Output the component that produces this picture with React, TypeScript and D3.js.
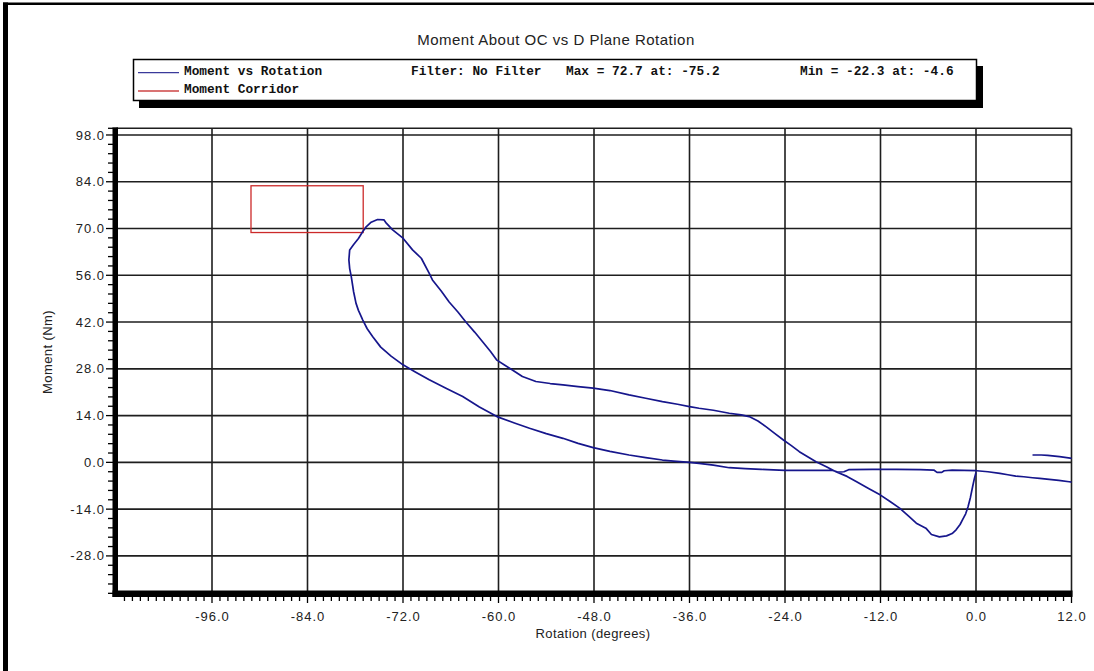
import React from "react";
import * as d3 from "d3";

const W = 1094;
const H = 671;

const chartTitle = "Moment About OC vs D Plane Rotation";
const xAxisTitle = "Rotation (degrees)";
const yAxisTitle = "Moment (Nm)";

const xTickValues = [-96, -84, -72, -60, -48, -36, -24, -12, 0, 12];
const yTickValues = [98, 84, 70, 56, 42, 28, 14, 0, -14, -28];

const legendSeries = ["Moment vs Rotation", "Moment Corridor"];
const legendFilter = "Filter: No Filter";
const legendMax = "Max = 72.7 at: -75.2";
const legendMin = "Min = -22.3 at: -4.6";

// Main trace (rotation deg, moment Nm), in drawing order
const loopRotation = [
  12.3, 11.7, 10.4, 9.2, 8.0, 7.1, 6.0, 5.0, 4.0, 3.0, 1.5, 0.1, -1.5, -3.0, -4.0, -4.3, -4.9, -5.3,
  -7, -10, -13, -16, -16.6, -17.4, -18.0, -20, -24, -27, -29, -31, -33, -34.8, -36, -38, -39.4,
  -41.5, -43.6, -46, -48.1, -50, -51.9, -54, -56.1, -58, -60.2, -62.4, -64.5, -66.6, -68.7, -70.4,
  -72, -73.5, -74.8, -75.8, -76.5, -77.05, -77.6, -77.9, -78.2, -78.5, -78.7, -78.8, -78.7, -78.2,
  -77.6, -77.05, -76.6, -76.0, -75.2, -74.4, -74.1, -73.3, -72.0, -70.8, -69.7, -68.7, -68.3, -67.2,
  -66.2, -65.1, -64.1, -63, -62, -61, -60.2, -59.2, -58.4, -57, -55.3, -53.5, -51.9, -50, -48.1,
  -46, -43.6, -41.5, -39.4, -37.5, -36, -34.8, -33, -31, -29.5, -28.5, -27.4, -26.4, -25.3, -24.2,
  -23.2, -22.2, -21.1, -20.1, -18.8, -17.6, -16.2, -15, -13.5, -12, -10.8, -9.6, -8.5, -7.5, -6.3,
  -5.6, -4.6, -3.7, -3.0, -2.5, -2.0, -1.7, -1.3, -1.0, -0.7, -0.4, -0.2, 0,
];
const loopMoment = [
  -6.0, -5.8, -5.4, -5.1, -4.8, -4.6, -4.3, -4.1, -3.7, -3.3, -2.8, -2.5, -2.4, -2.3, -2.5, -3.0, -3.0, -2.3,
  -2.2, -2.1, -2.1, -2.2, -2.8, -2.9, -2.4, -2.4, -2.4, -2.1, -1.9, -1.6, -0.8, -0.3, 0, 0.4, 0.7,
  1.4, 2.2, 3.3, 4.4, 5.7, 7.2, 8.6, 10.2, 11.8, 13.7, 16.6, 19.7, 22.2, 24.7, 27,
  29.2, 31.8, 34.5, 37.6, 40, 42.6, 45.5, 47.6, 51, 55.6, 58, 60.6, 63.6, 65.2,
  67.0, 69.1, 70.6, 71.9, 72.7, 72.6, 71.6, 69.6, 67.1, 63.6, 61.1, 56.6, 54.6, 51.3,
  48, 45, 42, 39, 36.1, 33.2, 30.6, 29.1, 27.9, 25.7, 24.2, 23.6, 23.2, 22.7, 22.2,
  21.5, 20.2, 19.2, 18.2, 17.4, 16.7, 16.2, 15.6, 14.7, 14.2, 13.7, 12.4, 10.7, 8.7, 6.7,
  5, 3.2, 1.6, 0.2, -1.3, -2.8, -4.2, -5.8, -7.8, -9.8, -11.7, -13.7, -16, -18.2, -19.7,
  -21.6, -22.3, -22.0, -21.3, -20.2, -18.6, -17.2, -15.4, -13.3, -10.5, -7.0, -4.8, -3.0,
];

// Short detached trace at the right edge
const tailRotation = [7.1, 8.2, 9.0, 10.5, 12.3];
const tailMoment = [2.2, 2.2, 2.1, 1.7, 1.1];

// Moment corridor box
const corridorRotation = [-91.1, -77.0];
const corridorMoment = [68.8, 82.8];

const BLUE = "#16168c";
const RED = "#cc2a2a";
const GRID = "#1e1e1e";

export default function App() {
  const x = d3.scaleLinear().domain([-108, 12]).range([116.5, 1071.5]);
  const y = d3.scaleLinear().domain([-40, 100]).range([596, 128.3]);

  const loopData = loopRotation.map((r, i) => [r, loopMoment[i]] as [number, number]);
  const tailData = tailRotation.map((r, i) => [r, tailMoment[i]] as [number, number]);
  const line = d3
    .line<[number, number]>()
    .x((d) => x(d[0]))
    .y((d) => y(d[1]));

  const xMinor = d3.range(-107, 12, 1).filter((v) => !xTickValues.includes(v));
  const yMinor: number[] = [];
  for (let v = 98; v >= -40; v -= 2.8) yMinor.push(+v.toFixed(1));
  const yMinorOnly = yMinor.filter((v) => !yTickValues.includes(v));
  yMinorOnly.push(100);

  const [x0, x1] = x.range();
  const [yb, yt] = y.range();

  const sans = "'Liberation Sans', Arial, sans-serif";
  const mono = "'Liberation Mono', 'Courier New', monospace";

  return (
    <svg
      width={W}
      height={H}
      style={{ position: "absolute", left: 0, top: 0, display: "block", background: "#fff" }}
    >
      <rect x={0} y={0} width={W} height={H} fill="#fff" />
      {/* outer frame */}
      <rect x={3} y={2.5} width={W - 3} height={2.5} fill="#000" />
      <rect x={3} y={2.5} width={5} height={H - 2.5} fill="#000" />

      {/* title */}
      <text
        x={556}
        y={45}
        textAnchor="middle"
        fontFamily={sans}
        fontSize={15}
        letterSpacing={0.5}
        fill="#222"
      >
        {chartTitle}
      </text>

      {/* legend */}
      <rect x={139} y={66} width={844} height={42} fill="#000" />
      <rect x={133.5} y={59.5} width={843} height={41} fill="#fff" stroke="#000" strokeWidth={1.5} />
      <line x1={138} x2={179} y1={72.7} y2={72.7} stroke="#3a3a9a" strokeWidth={1.3} />
      <line x1={138} x2={179} y1={91} y2={91} stroke="#cc4444" strokeWidth={1.3} />
      <g fontFamily={mono} fontSize={12.8} fontWeight="bold" fill="#111">
        <text x={184} y={75}>{legendSeries[0]}</text>
        <text x={184} y={93}>{legendSeries[1]}</text>
        <text x={411} y={75}>{legendFilter}</text>
        <text x={566} y={75}>{legendMax}</text>
        <text x={800} y={75}>{legendMin}</text>
      </g>

      {/* grid */}
      <g stroke={GRID} strokeWidth={1.6}>
        {xTickValues.map((v) => (
          <line key={"gx" + v} x1={x(v)} x2={x(v)} y1={yt} y2={yb} />
        ))}
        {yTickValues.map((v) => (
          <line key={"gy" + v} x1={x0} x2={x1} y1={y(v)} y2={y(v)} />
        ))}
        <line x1={x0} x2={x1} y1={y(100)} y2={y(100)} />
      </g>

      {/* corridor */}
      <rect
        x={x(corridorRotation[0])}
        y={y(corridorMoment[1])}
        width={x(corridorRotation[1]) - x(corridorRotation[0])}
        height={y(corridorMoment[0]) - y(corridorMoment[1])}
        fill="none"
        stroke={RED}
        strokeWidth={1.3}
      />

      {/* curves */}
      <defs>
        <clipPath id="plotClip">
          <rect x={x0} y={yt} width={x1 - x0} height={yb - yt} />
        </clipPath>
      </defs>
      <g clipPath="url(#plotClip)" fill="none" stroke={BLUE} strokeWidth={1.7} strokeLinejoin="round">
        <path d={line(loopData) || ""} />
        <path d={line(tailData) || ""} />
      </g>

      {/* axes */}
      <rect x={112.5} y={yt - 1} width={5.5} height={yb - yt + 2} fill="#000" />
      <rect x={112.5} y={590.5} width={x1 - 112.5 + 1} height={6.5} fill="#000" />
      <g stroke="#000" strokeWidth={1.3}>
        {yTickValues.map((v) => (
          <line key={"ty" + v} x1={106} x2={113} y1={y(v)} y2={y(v)} />
        ))}
        {yMinorOnly.map((v) => (
          <line key={"my" + v} x1={108} x2={113} y1={y(v)} y2={y(v)} />
        ))}
        {xTickValues.map((v) => (
          <line key={"tx" + v} x1={x(v)} x2={x(v)} y1={596} y2={603} />
        ))}
        {xMinor.map((v) => (
          <line key={"mx" + v} x1={x(v)} x2={x(v)} y1={596} y2={601} />
        ))}
      </g>

      {/* tick labels */}
      <g fontFamily={sans} fontSize={13} fill="#222" letterSpacing={1}>
        {yTickValues.map((v) => (
          <text key={"ly" + v} x={105} y={y(v)} dy="0.35em" textAnchor="end">
            {v.toFixed(1)}
          </text>
        ))}
        {xTickValues.map((v) => (
          <text key={"lx" + v} x={x(v) + 0.5} y={616} dy="0.35em" textAnchor="middle">
            {v.toFixed(1)}
          </text>
        ))}
      </g>

      {/* axis titles */}
      <text
        x={593}
        y={638}
        textAnchor="middle"
        fontFamily={sans}
        fontSize={13}
        letterSpacing={0.4}
        fill="#222"
      >
        {xAxisTitle}
      </text>
      <text
        transform="translate(52,352) rotate(-90)"
        textAnchor="middle"
        fontFamily={sans}
        fontSize={13}
        letterSpacing={0.4}
        fill="#222"
      >
        {yAxisTitle}
      </text>
    </svg>
  );
}
